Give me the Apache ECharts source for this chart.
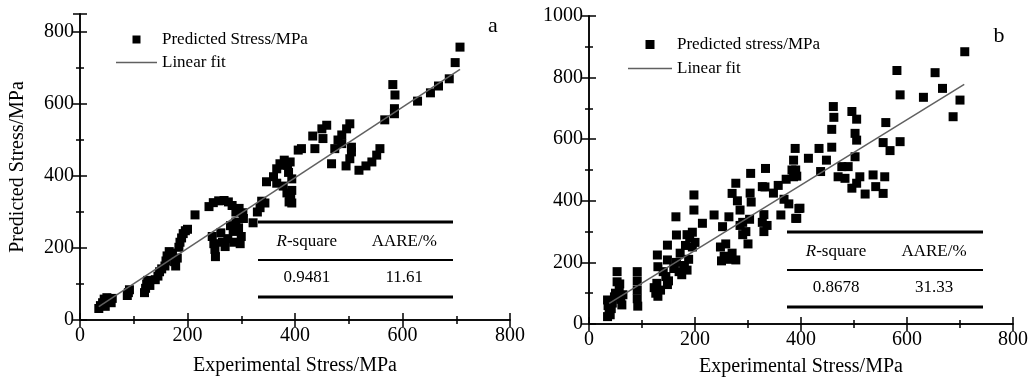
<!DOCTYPE html>
<html>
<head>
<meta charset="utf-8">
<script src="https://cdn.jsdelivr.net/npm/echarts@6/dist/echarts.min.js"></script>
<style>
html, body { margin: 0; padding: 0; background: #fff; }
#chart { width: 1031px; height: 383px; }
</style>
</head>
<body>
<div id="chart"></div>
<script>
// panel a: experimental vs predicted stress (MPa)
const aExp = [35, 38, 42, 45, 50, 55, 58, 60, 47, 88, 90, 92, 120, 122, 124, 126, 130, 140, 145, 148, 152,
    158, 160, 162, 166, 172, 176, 178, 181, 184, 186, 189, 192, 196, 200, 214, 240, 248, 258, 268, 276, 283,
    246, 249, 252, 251, 262, 265, 270, 275, 280, 285, 290, 295, 300, 298, 286, 304, 290, 296, 303,
    322, 330, 335, 338, 344, 347, 360, 366, 366, 372, 380, 385, 386, 388, 390, 392, 394, 378, 378,
    391, 394, 394, 389, 406, 412, 433, 437, 450, 452, 459, 468, 474, 480, 487, 487, 496, 502, 505, 505,
    502, 495, 519, 532, 543, 552, 558, 567, 585, 585, 586, 582, 628, 652, 667, 687, 698, 707];
const aPred = [32, 40, 48, 58, 62, 55, 48, 60, 38, 68, 76, 84, 76, 88, 100, 110, 96, 112, 122, 134, 142,
    150, 164, 178, 190, 186, 162, 150, 172, 202, 216, 228, 240, 248, 252, 292, 315, 326, 331, 332, 328, 318,
    232, 212, 176, 196, 242, 216, 204, 226, 262, 246, 272, 256, 232, 212, 216, 282, 300, 310, 298,
    270, 300, 312, 330, 325, 384, 398, 380, 420, 434, 444, 353, 430, 410, 330, 345, 325, 372, 430,
    439, 392, 360, 328, 472, 476, 511, 476, 531, 504, 541, 434, 476, 500, 514, 490, 531, 545, 480, 467,
    448, 428, 416, 428, 439, 458, 476, 556, 587, 573, 625, 654, 608, 631, 650, 670, 715, 758];
const aFitX = [35, 707];
const aFitY = [37, 696];

// panel b
const bExp = [35, 38, 36, 35, 42, 44, 48, 50, 53, 53, 57, 60, 62, 64, 58, 40,
    91, 91, 91, 91, 92, 123, 126, 130, 128, 135,
    129, 130, 145, 148, 148, 140, 150, 148, 164, 165,
    165, 170, 175, 180, 185, 188, 172, 160, 182, 190, 195, 200, 185, 195,
    198, 198, 214, 236, 248, 255, 262, 270, 277, 250, 258, 252, 264, 277, 270,
    280, 285, 290, 296, 300, 303, 285, 290, 306, 305, 304, 332,
    327, 333, 330, 327, 336, 330, 348, 357, 368, 372, 377, 383, 362, 390, 396, 390, 386, 389, 392, 386, 398, 392,
    414, 434, 437, 448, 458, 458, 462, 461, 496, 505, 502, 505, 502, 477, 489, 470, 483, 496, 505, 511,
    521, 536, 541, 555, 558, 555, 568, 587, 560, 581, 587, 631, 653, 667, 687, 700, 709];
const bPred = [24, 40, 60, 78, 50, 68, 88, 100, 137, 170, 112, 80, 62, 95, 130, 30,
    170, 140, 110, 82, 58, 118, 100, 90, 132, 110,
    224, 186, 154, 208, 128, 170, 140, 256, 348, 289,
    200, 170, 160, 190, 175, 210, 230, 180, 255, 280, 298, 265, 290, 250,
    419, 370, 327, 354, 250, 220, 210, 230, 208, 205, 260, 316, 348, 457, 424,
    400, 370, 330, 300, 260, 340, 320, 290, 396, 489, 425, 445,
    446, 505, 300, 330, 320, 355, 425, 450, 405, 470, 390, 500, 354, 343, 375, 500, 532, 570, 480, 478, 376, 343,
    538, 570, 495, 532, 574, 632, 671, 706, 690, 665, 619, 597, 543, 511, 511, 478, 473, 441, 457, 478,
    422, 484, 446, 424, 478, 589, 563, 592, 654, 823, 744, 736, 816, 765, 673, 727, 884];
const bFitX = [38, 708];
const bFitY = [67, 778];

const tableHead = ['{i|R}-square', 'AARE/%'];
const tableA = ['0.9481', '11.61'];
const tableB = ['0.8678', '31.33'];

const font = 'Liberation Serif';

const pairs = (xs, ys) => xs.map((x, i) => [x, ys[i]]);

function valAxis(opt) {
    return Object.assign({
        type: 'value',
        min: 0,
        interval: 200,
        axisLine: { show: true, lineStyle: { color: '#000', width: 1.5 } },
        axisTick: { show: true, inside: true, length: 7, lineStyle: { color: '#000', width: 1.5 } },
        minorTick: { show: true, splitNumber: 2, length: 4, lineStyle: { color: '#000', width: 1.5 } },
        axisLabel: { color: '#000', fontFamily: font, fontSize: 20, margin: 6, formatter: v => String(v) },
        splitLine: { show: false },
        minorSplitLine: { show: false },
        nameTextStyle: { color: '#000', fontFamily: font, fontSize: 20 }
    }, opt);
}

function tableGraphic(x1, x2, yTop, head, vals) {
    const c1 = x1 + (x2 - x1) * 0.25;
    const c2 = x1 + (x2 - x1) * 0.75;
    const line = (y, w) => ({ type: 'line', shape: { x1: x1, y1: y, x2: x2, y2: y }, style: { stroke: '#000', lineWidth: w }, z: 10 });
    const txt = (x, y, t) => ({
        type: 'text', x: x, y: y, z: 10,
        style: {
            text: t, align: 'center', verticalAlign: 'middle', fill: '#000',
            fontFamily: font, fontSize: 17,
            rich: { i: { fontStyle: 'italic', fontFamily: font, fontSize: 17 } }
        }
    });
    return [
        line(yTop, 3), line(yTop + 38, 2), line(yTop + 75, 3),
        txt(c1, yTop + 20, head[0]), txt(c2, yTop + 20, head[1]),
        txt(c1, yTop + 56, vals[0]), txt(c2, yTop + 56, vals[1])
    ];
}

const squareIcon = 'path://M0,0H10V10H0Z';
const lineIcon = 'path://M0,0H60V2H0Z';

const chart = echarts.init(document.getElementById('chart'));

const option = {
    backgroundColor: '#fff',
    animation: false,
    grid: [
        { left: 80, top: 14, width: 430, height: 306, containLabel: false, outerBoundsMode: 'none' },
        { left: 589, top: 16, width: 424, height: 308, containLabel: false, outerBoundsMode: 'none' }
    ],
    xAxis: [
        valAxis({ gridIndex: 0, max: 800, position: 'bottom', name: 'Experimental Stress/MPa', nameLocation: 'middle', nameGap: 36 }),
        valAxis({ gridIndex: 0, max: 800, position: 'top', axisLabel: { show: false } }),
        valAxis({ gridIndex: 1, max: 800, position: 'bottom', name: 'Experimental Stress/MPa', nameLocation: 'middle', nameGap: 33 }),
        valAxis({ gridIndex: 1, max: 800, position: 'top', axisLabel: { show: false } })
    ],
    yAxis: [
        valAxis({ gridIndex: 0, max: 850, position: 'left', name: 'Predicted Stress/MPa', nameLocation: 'middle', nameGap: 52 }),
        valAxis({ gridIndex: 0, max: 850, position: 'right', axisLabel: { show: false } }),
        valAxis({ gridIndex: 1, max: 1000, position: 'left' }),
        valAxis({ gridIndex: 1, max: 1000, position: 'right', axisLabel: { show: false } })
    ],
    legend: [
        {
            left: 111, top: 26, padding: 5, orient: 'vertical', itemWidth: 41, itemHeight: 8, itemGap: 6,
            symbolKeepAspect: true,
            textStyle: { color: '#000', fontFamily: font, fontSize: 17 },
            data: [{ name: 'Predicted Stress/MPa', icon: squareIcon }, { name: 'Linear fit', icon: lineIcon }]
        },
        {
            left: 623, top: 31, padding: 5, orient: 'vertical', itemWidth: 44, itemHeight: 9, itemGap: 7,
            symbolKeepAspect: true,
            textStyle: { color: '#000', fontFamily: font, fontSize: 17 },
            data: [{ name: 'Predicted stress/MPa', icon: squareIcon }, { name: 'Linear fit', icon: lineIcon }]
        }
    ],
    series: [
        {
            name: 'Predicted Stress/MPa', type: 'scatter', xAxisIndex: 0, yAxisIndex: 0,
            symbol: 'rect', symbolSize: 9, itemStyle: { color: '#000', opacity: 1 },
            data: pairs(aExp, aPred)
        },
        {
            name: 'Linear fit', type: 'line', xAxisIndex: 0, yAxisIndex: 0, symbol: 'none',
            lineStyle: { color: '#606060', width: 1.5 }, itemStyle: { color: '#606060' }, z: 3,
            data: pairs(aFitX, aFitY)
        },
        {
            name: 'Predicted stress/MPa', type: 'scatter', xAxisIndex: 2, yAxisIndex: 2,
            symbol: 'rect', symbolSize: 9, itemStyle: { color: '#000', opacity: 1 },
            data: pairs(bExp, bPred)
        },
        {
            name: 'Linear fit', type: 'line', xAxisIndex: 2, yAxisIndex: 2, symbol: 'none',
            lineStyle: { color: '#606060', width: 1.5 }, itemStyle: { color: '#606060' }, z: 3,
            data: pairs(bFitX, bFitY)
        }
    ],
    graphic: [].concat(
        tableGraphic(258, 453, 222, tableHead, tableA),
        tableGraphic(787, 983, 232, tableHead, tableB),
        [
            { type: 'text', x: 493, y: 26, style: { text: 'a', align: 'center', verticalAlign: 'middle', fill: '#000', fontFamily: font, fontSize: 22 } },
            { type: 'text', x: 999, y: 36, style: { text: 'b', align: 'center', verticalAlign: 'middle', fill: '#000', fontFamily: font, fontSize: 22 } }
        ]
    )
};

chart.setOption(option);
</script>
</body>
</html>
